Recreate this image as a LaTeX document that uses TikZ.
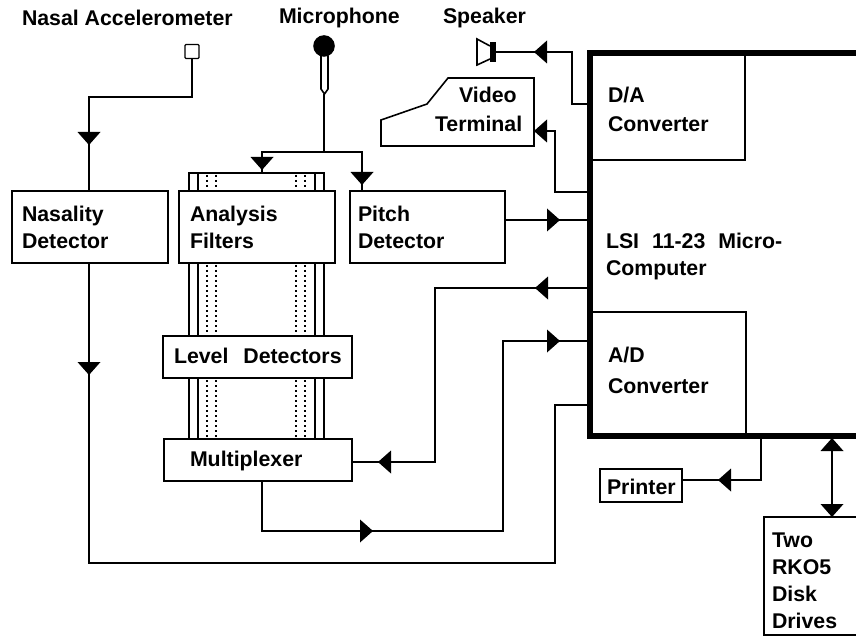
\documentclass[tikz,border=0pt]{standalone}
\usepackage{fontspec}
\setmainfont{Liberation Sans}
\usetikzlibrary{calc}
\tikzset{
  x=1pt,y=-1pt,
  every node/.style={font=\fontsize{21.3}{27}\selectfont\bfseries},
  wire/.style={line width=1.6pt,line join=miter},
  boxnode/.style={draw,line width=1.6pt,anchor=north west,inner sep=0pt,outer sep=0pt,align=left},
  lbl/.style={anchor=base west,inner sep=0pt,outer sep=0pt,align=left},
  solidbus/.style={line width=1.6pt},
  dotbus/.style={line width=1.8pt,dash pattern=on 1.8pt off 3.2pt},
  thickb/.style={line width=6pt},
}
% arrowheads: apex position, pointing down/up/left/right
\newcommand{\headD}[1]{\fill #1 -- ++(-11.5,-13) -- ++(23,0) -- cycle;}
\newcommand{\headU}[1]{\fill #1 -- ++(-11.5,13) -- ++(23,0) -- cycle;}
\newcommand{\headL}[1]{\fill #1 -- ++(13,-11.5) -- ++(0,23) -- cycle;}
\newcommand{\headR}[1]{\fill #1 -- ++(-13,-11.5) -- ++(0,23) -- cycle;}
\begin{document}
\begin{tikzpicture}
\useasboundingbox (0,0) rectangle (856,636);
% bus behind boxes
\foreach \xx in {189,198,315,324} \draw[solidbus] (\xx,173) -- (\xx,439);
\foreach \xx in {207,216,296,305} \draw[dotbus] (\xx,175) -- (\xx,439);
\draw[solidbus] (188,173) -- (325,173);
\coordinate (bustop) at (262,173);
% boxes
\node[boxnode,fill=white,minimum width=156pt,minimum height=72pt] (nasal) at (12,191) {};
\node[boxnode,fill=white,minimum width=156pt,minimum height=72pt] (filters) at (179,191) {};
\node[boxnode,fill=white,minimum width=155pt,minimum height=72pt] (pitch) at (350,191) {};
\node[boxnode,fill=white,minimum width=189pt,minimum height=42pt] (level) at (163,336) {};
\node[boxnode,fill=white,minimum width=188pt,minimum height=42pt] (mux) at (164,439) {};
\node[boxnode,minimum width=82pt,minimum height=33pt] (printer) at (600,469) {};
\node[anchor=north west,inner sep=0pt,outer sep=0pt,minimum width=266pt,minimum height=383pt] (comp) at (590,53) {};
\node[anchor=north west,inner sep=0pt,outer sep=0pt,minimum width=155pt,minimum height=107pt,draw,line width=1.6pt] (da) at (590,53) {};
\node[anchor=north west,inner sep=0pt,outer sep=0pt,minimum width=156pt,minimum height=124pt,draw,line width=1.6pt] (ad) at (590,312) {};
\draw[line width=1.6pt] (856,517) -- (764,517) -- (764,635) -- (856,635);
\coordinate (disktop) at (832,517);
\coordinate (compbot) at (832,438);
\coordinate (printerout) at (682,480);
% computer thick outline
\draw[thickb] (856,53) -- (590,53) -- (590,436) -- (856,436);
% video terminal
\node[inner sep=0pt,outer sep=0pt,minimum width=153pt,minimum height=68pt,anchor=north west] (video) at (381,78) {};
\draw[line width=1.6pt] (448,78) -- (534,78) -- (534,146) -- (381,146) -- (381,120) -- (427,104) -- cycle;
% nasal sensor
\node[draw,line width=1.4pt,rounded corners=1pt,minimum size=14pt,inner sep=0pt,outer sep=0pt] (sensor) at (192,51.5) {};
% microphone
\fill (324,46) circle (10.8);
\node[inner sep=0pt,outer sep=0pt,minimum size=1pt] (mictip) at (324,94) {};
\draw[line width=1.6pt] (321,56) -- (321,89) -- (324.5,94) -- (328,89) -- (328,56);
% speaker
\node[inner sep=0pt,outer sep=0pt,minimum width=6pt,minimum height=20pt,fill=black] (spk) at (493,52) {};
\draw[line width=1.6pt] (490,46) -- (477,39) -- (477,65) -- (490,59);
% connectors
\draw[wire] (sensor.south) -- (192,97) -- (89,97) -- (89,192);
\headD{(89,145)}
\draw[wire] (89,263) -- (89,563) -- (555,563) -- (555,405) -- (590,405);
\headD{(89,375)}
\draw[wire] (mictip.south) -- (324,152);
\draw[wire] (362,191) -- (362,152) -- (262,152) -- (bustop);
\headD{(262,170)}
\headD{(362,185)}
\draw[wire] (spk.east) -- (572,52) -- (572,104) -- (590,104);
\headL{(534,52)}
\draw[wire] (534,131) -- (555,131) -- (555,192) -- (590,192);
\headL{(534,131)}
\draw[wire] (505,220) -- (590,220);
\headR{(560,220)}
\draw[wire] (352,462) -- (435,462) -- (435,288) -- (590,288);
\headL{(535,288)}
\headL{(378,462)}
\draw[wire] (262,481) -- (262,531) -- (503,531) -- (503,341) -- (590,341);
\headR{(373,531)}
\headR{(560,341)}
\draw[wire] (printerout) -- (761,480) -- (761,436);
\headL{(718,480)}
\draw[wire] (compbot) -- (disktop);
\headU{(compbot)}
\headD{(disktop)}
% labels
\node[lbl] (t1) at (22,26) {Nasal Accelerometer};
\node[lbl] (t2) at (279,24) {Microphone};
\node[lbl] (t3) at (443,24) {Speaker};
\node[lbl] (t4) at (22,248) {Nasality\\Detector};
\node[lbl] (t5) at (190,248) {Analysis\\Filters};
\node[lbl] (t6) at (358,248) {Pitch\\Detector};
\node[lbl] (t7) at (174,363) {Level\hspace{9pt} Detectors};
\node[lbl] (t8) at (190,466) {Multiplexer};
\node[lbl] (t9) at (459,103) {Video};
\node[lbl] (t10) at (435,132) {Terminal};
\node[lbl] (t11) at (608,132) {D/A\\[2pt]Converter};
\node[lbl] (t12) at (606,276) {LSI\hspace{7pt} 11-23\hspace{7pt} Micro-\\Computer};
\node[lbl] (t13) at (608,393) {A/D\\[4pt]Converter};
\node[lbl] (t14) at (607,494) {Printer};
\node[lbl] (t15) at (772,628) {Two\\RKO5\\Disk\\Drives};
\end{tikzpicture}
\end{document}
